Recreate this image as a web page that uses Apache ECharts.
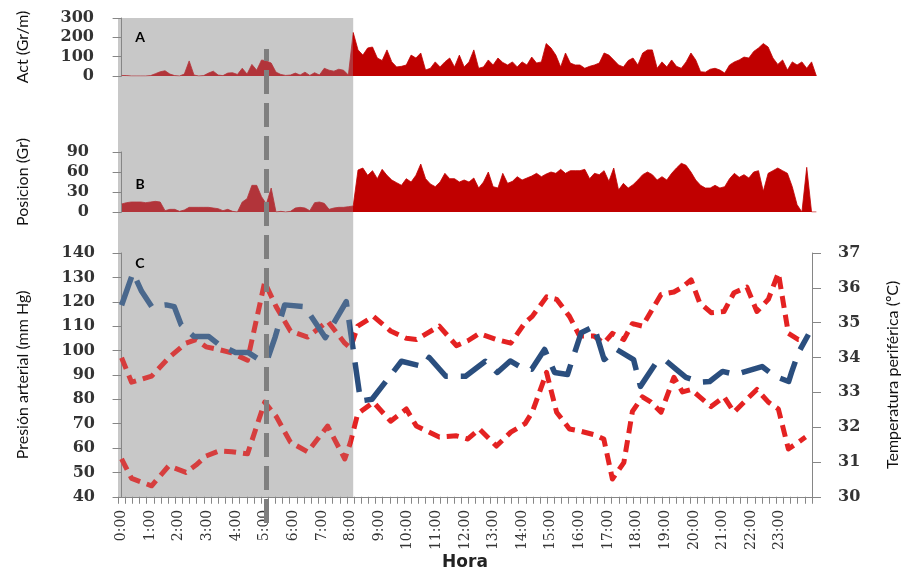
<!DOCTYPE html>
<html>
<head>
<meta charset="utf-8">
<script src="https://cdn.jsdelivr.net/npm/echarts@6/dist/echarts.min.js"></script>
<style>
  html, body { margin: 0; padding: 0; background: #ffffff; }
  #chart { width: 909px; height: 572px; }
</style>
</head>
<body>
<div id="chart"></div>
<script>
// ---- 24 h ambulatory record: activity, posture, blood pressure, peripheral temperature ----

// Activity and posture are 10-minute epochs starting at 0:00
const EPOCH_H = 1 / 6;

// Act (Gr/m)
const activity = [
  3, 2, 0, 0, 0, 0, 2, 12, 22, 27, 10, 2, 0, 10, 78, 5, 0, 2, 15, 25,
  5, 2, 15, 17, 8, 40, 10, 60, 30, 83, 78, 67, 20, 8, 3, 5, 15, 5, 20, 3,
  17, 5, 40, 30, 25, 35, 30, 5, 225,
  135, 108, 145, 150, 93, 80, 135, 73, 47, 50,
  57, 108, 93, 119, 31, 40, 73, 47, 73, 93,
  47, 108, 47, 73, 135, 40, 47, 83, 57, 93,
  70, 57, 73, 47, 73, 57, 98, 67, 73, 168,
  145, 108, 47, 119, 67, 57, 57, 40, 50, 57,
  67, 119, 108, 83, 57, 47, 80, 93, 57, 119,
  135, 135, 40, 73, 47, 83, 50, 40, 73, 119,
  83, 22, 20, 35, 40, 31, 15, 57, 73, 83,
  98, 93, 127, 145, 168, 150, 93, 60, 83, 31,
  73, 57, 73, 40, 73, 0
];

// Posicion (Gr)
const position = [
  12, 14, 15, 15, 15, 14, 15, 16, 15, 2, 4, 4, 1, 3, 7, 7, 7, 7, 7, 6,
  5, 2, 4, 1, 0, 15, 20, 40, 40, 23, 12, 36, 0, 1, 0, 1, 6, 7, 6, 2,
  14, 15, 13, 4, 6, 7, 7, 8, 9,
  63, 66, 55, 62, 50, 64, 55, 48, 44, 40,
  50, 45, 55, 72, 50, 42, 38, 45, 58, 50,
  50, 45, 48, 45, 51, 36, 45, 60, 38, 36,
  58, 43, 46, 53, 48, 51, 54, 58, 53, 57,
  60, 58, 64, 58, 62, 62, 62, 64, 50, 58,
  56, 62, 46, 66, 33, 43, 36, 41, 48, 56,
  60, 56, 48, 53, 48, 58, 66, 73, 70, 60,
  48, 40, 36, 36, 40, 36, 38, 50, 58, 52,
  56, 51, 60, 62, 31, 58, 62, 66, 62, 58,
  38, 11, 0, 67, 0, 0
];

// Blood pressure readings (time in hours, mm Hg)
const bpHours = [
  0.0, 0.35, 1.05, 1.65, 2.25, 2.6, 2.95, 3.4, 3.85, 4.4,
  5.0, 5.4, 5.9, 6.5, 7.2, 7.8, 8.0, 8.25, 8.8, 9.4,
  9.95, 10.3, 11.1, 11.7, 12.1, 12.5, 13.1, 13.6, 14.1, 14.35,
  14.85, 15.2, 15.65, 16.0, 16.5, 16.85, 17.15, 17.55, 17.85, 18.2,
  18.5, 18.85, 19.3, 19.6, 19.9, 20.2, 20.6, 21.05, 21.4, 21.85,
  22.2, 22.6, 22.95, 23.3, 23.65, 23.9
];
const systolic = [
  97, 87, 89.5, 97, 103, 104.5, 101.5, 100.4, 99, 96,
  128, 118, 108, 105.5, 112, 103, 101, 110, 114, 108,
  105, 104.5, 110, 102, 104, 107, 104.5, 103, 111.5, 114,
  122, 121, 114, 106, 106, 103, 107, 104.5, 111, 110,
  116, 123, 124, 126, 129, 119.6, 115.5, 116, 123.7, 126,
  116, 121, 131.8, 107, 104.5, 104.5
];
const diastolic = [
  55.5, 47.5, 44.5, 52.7, 50, 53, 56.7, 58.8, 58.5, 57.6,
  78.8, 73, 62.4, 58.4, 69, 55.5, 62.4, 74, 78.8, 71,
  76, 69, 64.5, 65, 63.7, 67.8, 60.8, 66.5, 70, 74.7,
  91, 74.7, 67.8, 67, 65.5, 63.7, 47.3, 54, 75, 81,
  78.8, 74.7, 89, 83, 84, 81, 77, 81, 74.7, 80,
  84, 78.8, 76, 59.6, 62.4, 64.5
];

// Peripheral temperature readings (time in hours, ºC)
const tempHours = [
  0.0, 0.4, 0.7, 1.05, 1.56, 1.84, 2.08, 2.53, 3.05, 3.4,
  3.98, 4.43, 4.88, 5.12, 5.36, 5.7, 6.4, 7.12, 7.85, 8.15,
  8.35, 8.75, 9.78, 10.54, 10.75, 11.33, 12.02, 12.71, 13.13, 13.58,
  14.0, 14.33, 14.78, 15.13, 15.58, 16.06, 16.51, 16.86, 17.3, 17.89,
  18.13, 18.69, 19.03, 19.38, 19.72, 20.2, 20.55, 21.0, 21.45, 22.38,
  22.83, 23.31, 23.41, 23.65, 24.0
];
const temperature = [
  35.5, 36.43, 35.9, 35.46, 35.51, 35.46, 34.94, 34.6, 34.6, 34.37,
  34.14, 34.14, 33.9, 34.0, 34.57, 35.51, 35.46, 34.57, 35.6, 33.9,
  32.75, 32.8, 33.89, 33.74, 34.0, 33.46, 33.46, 33.89, 33.57, 33.9,
  33.7, 33.66, 34.23, 33.57, 33.51, 34.71, 34.89, 33.94, 34.23, 33.94,
  33.17, 33.86, 33.9, 33.66, 33.43, 33.29, 33.31, 33.6, 33.51, 33.74,
  33.46, 33.31, 33.57, 34.14, 34.66
];

// Sleep period (shaded) and the marked hour (dashed line)
const NIGHT_END_H = 8;
const MARK_H = 5;

// Time axis: 15-minute slots 0:00 .. 24:00, hour labels every 4th slot
const SLOTS_PER_HOUR = 4;
const slotLabels = [];
for (let s = 0; s <= 24 * SLOTS_PER_HOUR; s++) {
  const h = Math.floor(s / SLOTS_PER_HOUR);
  const m = (s % SLOTS_PER_HOUR) * 15;
  slotLabels.push(h + ':' + (m < 10 ? '0' : '') + m);
}
// Hidden hour axes span exactly the same slots (half a slot either side)
const X_MIN = -0.5 / SLOTS_PER_HOUR;
const X_MAX = 24 + 0.5 / SLOTS_PER_HOUR;

// ---- styling ----
const AXIS_GRAY = '#868686';
const SHADE_GRAY = '#c8c8c8';
const LABEL_FONT = { fontFamily: '"DejaVu Serif", serif', fontWeight: 'bold', fontSize: 16, color: '#333333' };
const NAME_FONT = { fontFamily: 'Lato, "Noto Sans", sans-serif', fontSize: 16, color: '#111111' };
const LETTER_FONT = 'bold 14px Lato, "Liberation Sans", sans-serif';

const pairs = (xs, ys) => xs.map((x, i) => [x, ys[i]]);
const epochs = (vals) => vals.map((v, i) => [i * EPOCH_H, v]);

const hiddenX = (gridIndex) => ({ type: 'value', gridIndex, min: X_MIN, max: X_MAX, show: false });
const hiddenY = (gridIndex) => ({ type: 'value', gridIndex, min: 0, max: 1, show: false });

function valueY(gridIndex, min, max, interval, name, margin, nameGap, position) {
  return {
    type: 'value', gridIndex, min, max, interval, position,
    name, nameLocation: 'middle', nameGap, nameRotate: 90, nameTextStyle: NAME_FONT,
    axisLine: { show: true, lineStyle: { color: AXIS_GRAY, width: 1 } },
    axisTick: { show: true, length: 9, lineStyle: { color: AXIS_GRAY } },
    axisLabel: Object.assign({ margin }, LABEL_FONT),
    splitLine: { show: false },
    z: 3
  };
}

// Night / day colouring of a series along the time axis
function dayNight(seriesIndex, nightColor, dayColor) {
  return {
    type: 'piecewise', show: false, dimension: 0, seriesIndex,
    pieces: [
      { gte: X_MIN - 1, lt: NIGHT_END_H, color: nightColor },
      { gte: NIGHT_END_H, lte: X_MAX + 1, color: dayColor }
    ]
  };
}

const chart = echarts.init(document.getElementById('chart'));

chart.setOption({
  animation: false,
  backgroundColor: '#ffffff',
  grid: [
    { left: 118, right: 89, top: 18, height: 58 },   // A
    { left: 118, right: 89, top: 152, height: 60 },  // B
    { left: 118, right: 89, top: 253, height: 245 }, // C
    { left: 118, right: 89, top: 18, height: 480 },  // night shading
    { left: 118, right: 89, top: 49, height: 474 }   // marker line
  ],
  xAxis: [
    hiddenX(0),
    hiddenX(1),
    hiddenX(2),
    {
      type: 'category', gridIndex: 2, data: slotLabels, boundaryGap: true, position: 'bottom',
      axisLine: { show: true, lineStyle: { color: AXIS_GRAY } },
      axisTick: { show: true, interval: 0, length: 7, lineStyle: { color: AXIS_GRAY } },
      axisLabel: {
        interval: (i) => i % SLOTS_PER_HOUR === 0 && i < 24 * SLOTS_PER_HOUR,
        rotate: 90, margin: 13,
        fontFamily: '"DejaVu Serif", serif', fontSize: 14, color: '#333333'
      },
      name: 'Hora', nameLocation: 'middle', nameGap: 56,
      nameTextStyle: { fontFamily: '"DejaVu Sans", sans-serif', fontWeight: 'bold', fontSize: 17, color: '#222222' },
      z: 3
    },
    hiddenX(3),
    hiddenX(4)
  ],
  yAxis: [
    valueY(0, 0, 300, 100, 'Act (Gr/m)', 24, 87),
    valueY(1, 0, 90, 30, 'Posicion (Gr)', 29, 87),
    valueY(2, 40, 140, 10, 'Presión arterial (mm Hg)', 23, 87, 'left'),
    valueY(2, 30, 37, 1, 'Temperatura periférica (ºC)', 26, 73, 'right'),
    hiddenY(3),
    hiddenY(4)
  ],
  visualMap: [
    dayNight([0, 1], '#b2343a', '#c00000'),
    dayNight([2, 3], '#d63e3e', '#e42222'),
    dayNight([4], '#4a688d', '#2a4e7e')
  ],
  series: [
    {
      name: 'Act', type: 'line', xAxisIndex: 0, yAxisIndex: 0, data: epochs(activity),
      symbol: 'none', lineStyle: { width: 0.8 }, areaStyle: { opacity: 1 }, z: 3
    },
    {
      name: 'Posicion', type: 'line', xAxisIndex: 1, yAxisIndex: 1, data: epochs(position),
      symbol: 'none', lineStyle: { width: 0.8 }, areaStyle: { opacity: 1 }, z: 3
    },
    {
      name: 'PAS', type: 'line', xAxisIndex: 2, yAxisIndex: 2, data: pairs(bpHours, systolic),
      symbol: 'none', lineStyle: { width: 5, type: [12, 7], cap: 'butt', join: 'round' }, z: 4
    },
    {
      name: 'PAD', type: 'line', xAxisIndex: 2, yAxisIndex: 2, data: pairs(bpHours, diastolic),
      symbol: 'none', lineStyle: { width: 5, type: [12, 7], cap: 'butt', join: 'round' }, z: 4
    },
    {
      name: 'Temperatura', type: 'line', xAxisIndex: 2, yAxisIndex: 3, data: pairs(tempHours, temperature),
      symbol: 'none', lineStyle: { width: 5.5, type: [30, 13], cap: 'butt', join: 'round' }, z: 4
    },
    {
      name: 'Noche', type: 'line', xAxisIndex: 4, yAxisIndex: 4, data: [], z: 1, silent: true,
      markArea: {
        silent: true, itemStyle: { color: SHADE_GRAY },
        data: [[{ xAxis: X_MIN }, { xAxis: NIGHT_END_H }]]
      }
    },
    {
      name: 'Marca', type: 'line', xAxisIndex: 5, yAxisIndex: 5, data: [], z: 6, silent: true,
      markLine: {
        silent: true, symbol: 'none', label: { show: false },
        lineStyle: { color: '#7f7f7f', width: 5, type: [24, 9], cap: 'butt' },
        data: [{ xAxis: MARK_H }]
      }
    }
  ],
  graphic: [
    { type: 'text', x: 140, y: 37, z: 10, style: { text: 'A', fill: '#000', font: LETTER_FONT, align: 'center', verticalAlign: 'middle', textAlign: 'center', textVerticalAlign: 'middle' } },
    { type: 'text', x: 140, y: 184, z: 10, style: { text: 'B', fill: '#000', font: LETTER_FONT, align: 'center', verticalAlign: 'middle', textAlign: 'center', textVerticalAlign: 'middle' } },
    { type: 'text', x: 140, y: 263, z: 10, style: { text: 'C', fill: '#000', font: LETTER_FONT, align: 'center', verticalAlign: 'middle', textAlign: 'center', textVerticalAlign: 'middle' } }
  ]
});
</script>
</body>
</html>
